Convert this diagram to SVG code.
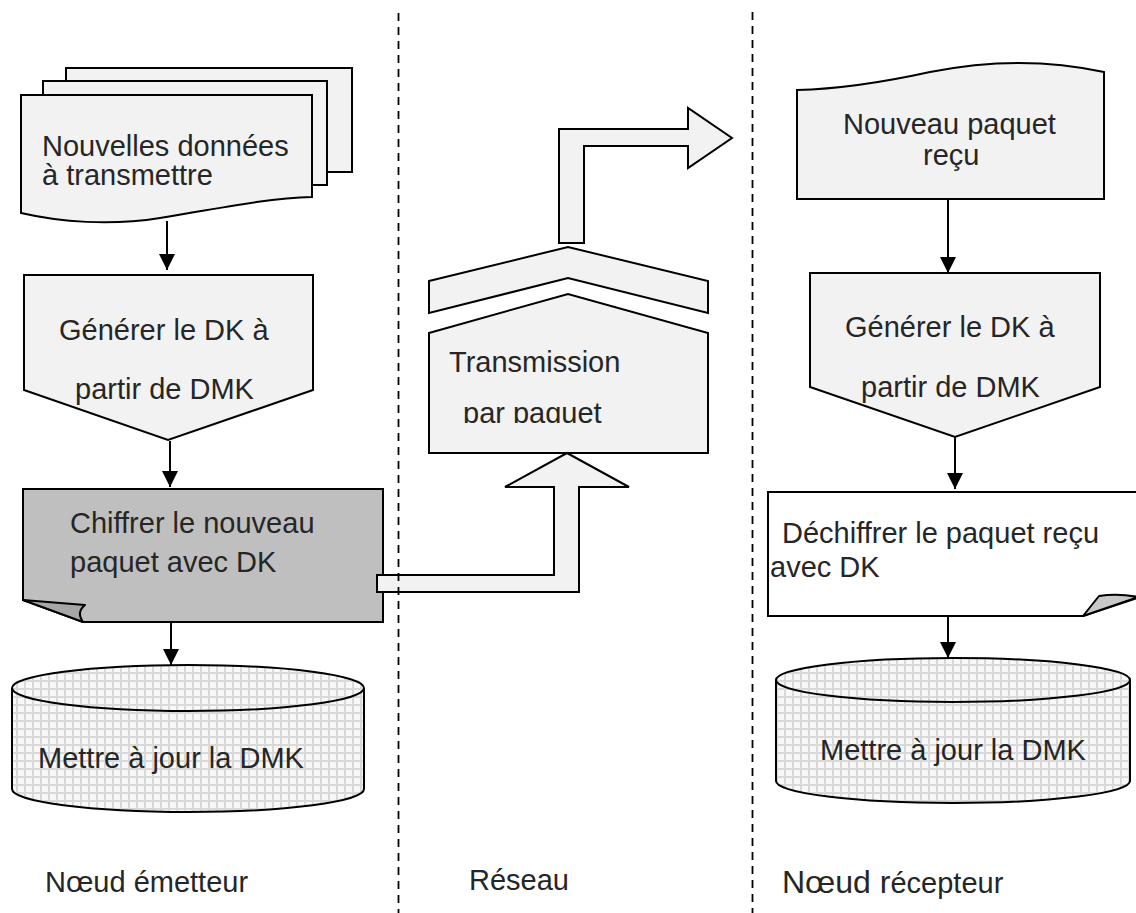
<svg xmlns="http://www.w3.org/2000/svg" width="1136" height="913" viewBox="0 0 1136 913">
  <style>
    .shape { fill: #f2f2f2; stroke: #000; stroke-width: 2; stroke-linejoin: miter; }
    .dark { fill: #bfbfbf; stroke: #000; stroke-width: 2; }
    .plain { fill: #ffffff; stroke: #000; stroke-width: 2; }
    .fold { stroke: #000; stroke-width: 2; stroke-linejoin: round; }
    .db { fill: url(#grid); stroke: #000; stroke-width: 2; }
    .lbl { font-family: "Liberation Sans", Arial, sans-serif; font-size: 29px; fill: #262626; }
    .conn { stroke: #000; stroke-width: 2; fill: none; marker-end: url(#head); }
    .lane { stroke: #000; stroke-width: 1.8; stroke-dasharray: 8 6; fill: none; }
  </style>
  <defs>
    <marker id="head" viewBox="0 0 16 16" refX="16" refY="8" markerWidth="16" markerHeight="16" markerUnits="userSpaceOnUse" orient="auto">
      <path d="M0,0 L16,8 L0,16 Z" fill="#000"/>
    </marker>
    <pattern id="grid" width="8" height="8" patternUnits="userSpaceOnUse">
      <rect width="8" height="8" fill="#f8f8f8"/>
      <path d="M0,1 H8 M1,0 V8" stroke="#d9d9d9" stroke-width="2"/>
    </pattern>
    <clipPath id="clipPacket">
      <rect x="429" y="294" width="279" height="129"/>
    </clipPath>
  </defs>

  <rect width="1136" height="913" fill="#ffffff"/>

  <!-- Sender side -->
  <g id="new-data">
    <rect class="shape" x="66" y="68" width="286" height="104"/>
    <rect class="shape" x="43" y="81" width="284" height="104"/>
    <path class="shape" d="M21,95 H312 V197 C270,198 220,208 160,218 C110,226 60,222 21,213 Z"/>
    <text class="lbl" x="42" y="156" font-size="28">Nouvelles données</text>
    <text class="lbl" x="42" y="185" font-size="28">à transmettre</text>
  </g>

  <g id="gen-dk-sender">
    <path class="shape" d="M24,275 H313 V390 L168,440 L24,390 Z"/>
    <text class="lbl" x="59" y="340">Générer le DK à</text>
    <text class="lbl" x="75" y="399">partir de DMK</text>
  </g>

  <g id="encrypt">
    <path class="dark" d="M23,489 H383 V622 H83 L23,600 Z"/>
    <path class="fold" fill="#a6a6a6" d="M23,600 L85,605 Q76,612 83,622 Z"/>
    <text class="lbl" x="70" y="533">Chiffrer le nouveau</text>
    <text class="lbl" x="70" y="572">paquet avec DK</text>
  </g>

  <g id="update-dmk-sender">
    <path class="db" d="M12,688 V789 A176,23 0 0 0 364,789 V688"/>
    <ellipse class="db" cx="188" cy="688" rx="176" ry="23"/>
    <text class="lbl" x="38" y="768">Mettre à jour la DMK</text>
  </g>

  <!-- Network -->
  <g id="transmission">
    <path class="shape" d="M429,281 L568,247 L708,281 V313 L568,278 L429,313 Z"/>
    <path class="shape" d="M429,333 L568,294 L708,333 V453 H429 Z"/>
    <text class="lbl" x="449" y="372">Transmission</text>
    <text class="lbl" x="463" y="423" clip-path="url(#clipPacket)">par paquet</text>
  </g>

  <g id="send-arrow">
    <path class="shape" d="M377,575 H554 V487 H505 L567,453 L629,487 H579 V592 H377 Z"/>
  </g>

  <g id="forward-arrow">
    <path class="shape" d="M559,243 V129 H688 V108 L732,138 L688,168 V146 H584 V243 Z"/>
  </g>

  <!-- Receiver side -->
  <g id="packet-received">
    <path class="shape" d="M797,199 V90 C840,89 880,83 930,72 C980,62 1040,58 1104,72 V199 Z"/>
    <text class="lbl" x="843" y="134">Nouveau paquet</text>
    <text class="lbl" x="923" y="165">reçu</text>
  </g>

  <g id="gen-dk-receiver">
    <path class="shape" d="M810,273 H1100 V387 L955,437 L810,387 Z"/>
    <text class="lbl" x="845" y="337">Générer le DK à</text>
    <text class="lbl" x="861" y="397">partir de DMK</text>
  </g>

  <g id="decrypt">
    <path class="plain" d="M768,492 H1140 V597 L1083,616 H768 Z"/>
    <path class="fold" fill="#c8c8c8" d="M1083,616 L1099,596 Q1118,593 1138,597 Z"/>
    <text class="lbl" x="782" y="543">Déchiffrer le paquet reçu</text>
    <text class="lbl" x="770" y="577">avec DK</text>
  </g>

  <g id="update-dmk-receiver">
    <path class="db" d="M776,680 V781 A177,22 0 0 0 1130,781 V680"/>
    <ellipse class="db" cx="953" cy="680" rx="177" ry="22"/>
    <text class="lbl" x="820" y="760">Mettre à jour la DMK</text>
  </g>

  <!-- Flow connectors -->
  <g id="connectors">
    <line class="conn" x1="167" y1="221" x2="167" y2="270"/>
    <line class="conn" x1="170" y1="441" x2="170" y2="487"/>
    <line class="conn" x1="171" y1="623" x2="171" y2="665"/>
    <line class="conn" x1="948" y1="200" x2="948" y2="273"/>
    <line class="conn" x1="955" y1="437" x2="955" y2="489"/>
    <line class="conn" x1="948" y1="617" x2="948" y2="658"/>
  </g>

  <!-- Lane separators -->
  <g id="lanes">
    <line class="lane" x1="398.5" y1="13" x2="398.5" y2="913"/>
    <line class="lane" x1="752.5" y1="12" x2="752.5" y2="913"/>
  </g>

  <!-- Lane titles -->
  <g id="lane-titles">
    <text class="lbl" x="45" y="892">Nœud émetteur</text>
    <text class="lbl" x="469" y="890">Réseau</text>
    <text class="lbl" x="782" y="893"><tspan font-size="32">Nœud r</tspan><tspan font-size="29">écepteur</tspan></text>
  </g>
</svg>
